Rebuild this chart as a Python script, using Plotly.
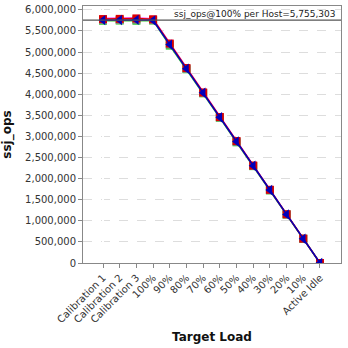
import plotly.graph_objects as go

categories = ["Calibration 1", "Calibration 2", "Calibration 3", "100%", "90%", "80%",
              "70%", "60%", "50%", "40%", "30%", "20%", "10%", "Active Idle"]

series_magenta = [5800000, 5800000, 5810000, 5790000, 5220000, 4640000, 4060000, 3480000, 2900000, 2320000, 1740000, 1160000, 580000, 0]
series_red = [5780000, 5785000, 5795000, 5775000, 5200000, 4620000, 4040000, 3460000, 2890000, 2310000, 1735000, 1155000, 578000, 0]
series_green = [5740000, 5745000, 5740000, 5745000, 5150000, 4590000, 4020000, 3440000, 2860000, 2295000, 1720000, 1148000, 572000, 0]
series_gray = [5760000, 5760000, 5765000, 5755303, 5180000, 4600000, 4030000, 3450000, 2875000, 2300000, 1726000, 1150000, 575000, 0]
series_blue = [5755000, 5758000, 5762000, 5750000, 5175000, 4605000, 4035000, 3455000, 2880000, 2305000, 1730000, 1152000, 576000, 0]

ref_value = 5755303
ref_label = "ssj_ops@100% per Host=5,755,303"
y_ticks = list(range(0, 6000001, 500000))

fig = go.Figure()
x = list(range(len(categories)))
specs = [
    (series_magenta, "#ff55ff", "square", 6),
    (series_green, "#33cc33", "square", 8),
    (series_gray, "#888888", "square", 8),
    (series_red, "#dd0000", "square", 8),
    (series_blue, "#0000bb", "triangle-left", 9),
]
for vals, col, sym, sz in specs:
    fig.add_trace(go.Scatter(x=x, y=vals, mode="lines+markers",
                             line=dict(color=col, width=1.5),
                             marker=dict(symbol=sym, size=sz, color=col),
                             showlegend=False))

fig.add_shape(type="line", xref="paper", x0=0, x1=1, yref="y", y0=ref_value, y1=ref_value,
              line=dict(color="#555555", width=1.2))
fig.add_annotation(xref="paper", x=0.99, yref="y", y=ref_value, text=ref_label,
                   showarrow=False, xanchor="right", yanchor="bottom", yshift=-1,
                   font=dict(family="DejaVu Sans", size=9, color="#222222"))

fig.update_layout(
    width=348, height=348,
    margin=dict(l=83, r=7, t=4, b=85),
    paper_bgcolor="white", plot_bgcolor="white",
    font=dict(family="DejaVu Sans", size=10, color="#333333"),
    xaxis=dict(tickmode="array", tickvals=x, ticktext=categories, tickangle=-45,
               range=[-1.2, 14.26], showgrid=False, showline=True, linecolor="#888888",
               mirror=True, ticks="outside", ticklen=4, tickcolor="#888888",
               title=dict(text="<b>Target Load</b>", font=dict(size=12, color="#111111"), standoff=8)),
    yaxis=dict(range=[0, 6090000], tickvals=y_ticks,
               ticktext=[f"{v:,}" for v in y_ticks], showgrid=True,
               gridcolor="#dddddd", griddash="dash", showline=True, linecolor="#888888",
               mirror=True, ticks="outside", ticklen=4, tickcolor="#888888", zeroline=False,
               title=dict(text="<b>ssj_ops</b>", font=dict(size=12, color="#111111"), standoff=12)),
)

fig.write_html("out.html")
